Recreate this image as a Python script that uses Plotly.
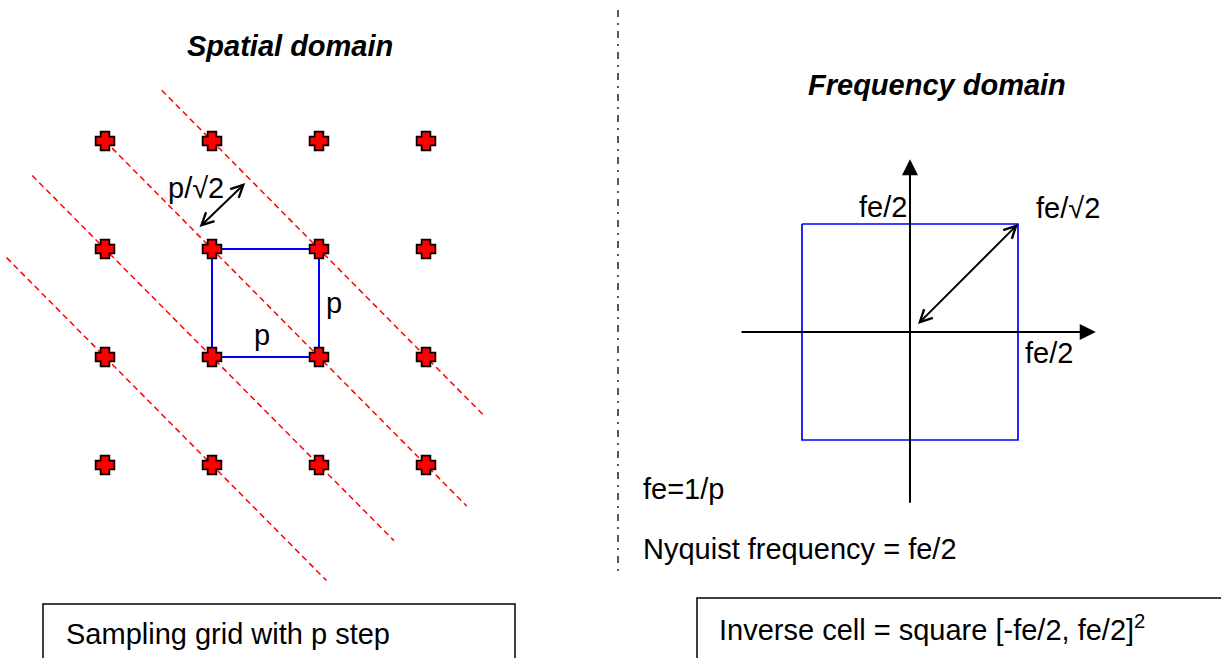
import plotly.graph_objects as go

W, H = 1221, 658

# ---------------- data ----------------
# Spatial sampling grid (units of p; rows counted from the top)
grid_cols = [0, 1, 2, 3]
grid_rows = [0, 1, 2, 3]

# Red dashed diagonals: col - row = offset, drawn between col_start and col_end
line_offsets = [1, 0, -1, -2]
line_col_start = [0.53, 0.0, -0.68, -0.92]
line_col_end = [3.53, 3.38, 2.70, 2.07]

# Unit cell (blue square)
cell_cols = [1, 2, 2, 1, 1]
cell_rows = [1, 1, 2, 2, 1]

# p/sqrt2 double arrow (spatial units)
sp_arrow_start = (0.87, 0.81)
sp_arrow_end = (1.31, 0.39)

# Frequency domain (units of fe)
inv_cell_x = [-0.5, 0.5, 0.5, -0.5, -0.5]
inv_cell_y = [0.5, 0.5, -0.5, -0.5, 0.5]
fx_axis_extent = [-0.78, 0.86]
fy_axis_extent = [-0.79, 0.80]
fq_arrow_start = (0.03, 0.03)
fq_arrow_end = (0.5, 0.5)

FONT = "Liberation Sans, Arial, sans-serif"
FS = 29

# ---------------- axes mapping ----------------
# left: col -> px = 105 + 107*c ; row -> py = 141 + 108*r
lx0 = -105 / 107
lx1 = lx0 + (W / 2) / 107
ly_bottom = (H - 141) / 108
ly_top = -141 / 108
# right: f -> px = 910 + 216*f ; f -> py = 332 - 216*f
rx0 = (W / 2 - 910) / 216
rx1 = (W - 910) / 216
ry0 = (332 - H) / 216
ry1 = 332 / 216

fig = go.Figure()

# dashed diagonals
for off, c0, c1 in zip(line_offsets, line_col_start, line_col_end):
    fig.add_trace(go.Scatter(
        x=[c0, c1], y=[c0 - off, c1 - off], mode="lines",
        line=dict(color="#ff0000", width=1.5, dash="6px,4px"),
        xaxis="x", yaxis="y", hoverinfo="skip", showlegend=False))

# unit cell
fig.add_trace(go.Scatter(
    x=cell_cols, y=cell_rows, mode="lines",
    line=dict(color="#0000ff", width=2),
    xaxis="x", yaxis="y", hoverinfo="skip", showlegend=False))

# grid points: chunky red crosses with black outline (two layers)
gx = [c for r in grid_rows for c in grid_cols]
gy = [r for r in grid_rows for c in grid_cols]
fig.add_trace(go.Scatter(
    x=gx, y=gy, mode="markers",
    marker=dict(symbol="cross", size=12.5, color="black",
                line=dict(color="black", width=5.5)),
    xaxis="x", yaxis="y", hoverinfo="skip", showlegend=False))
fig.add_trace(go.Scatter(
    x=gx, y=gy, mode="markers",
    marker=dict(symbol="cross", size=12.5, color="#ff0000",
                line=dict(color="#ff0000", width=2)),
    xaxis="x", yaxis="y", hoverinfo="skip", showlegend=False))

# inverse cell
fig.add_trace(go.Scatter(
    x=inv_cell_x, y=inv_cell_y, mode="lines",
    line=dict(color="#0000ff", width=1.7),
    xaxis="x2", yaxis="y2", hoverinfo="skip", showlegend=False))

# frequency axes lines (arrowheads via annotations)
fig.add_trace(go.Scatter(
    x=[fx_axis_extent[0], fx_axis_extent[1] - 0.02], y=[0, 0], mode="lines",
    line=dict(color="black", width=2),
    xaxis="x2", yaxis="y2", hoverinfo="skip", showlegend=False))
fig.add_trace(go.Scatter(
    x=[0, 0], y=[fy_axis_extent[0], fy_axis_extent[1] - 0.02], mode="lines",
    line=dict(color="black", width=2),
    xaxis="x2", yaxis="y2", hoverinfo="skip", showlegend=False))

ann = []
# axis arrowheads
ann.append(dict(x=fx_axis_extent[1], y=0, ax=fx_axis_extent[1] - 0.1, ay=0,
                xref="x2", yref="y2", axref="x2", ayref="y2", text="",
                showarrow=True, arrowhead=2, arrowsize=1.6, arrowwidth=2,
                arrowcolor="black", standoff=0))
ann.append(dict(x=0, y=fy_axis_extent[1], ax=0, ay=fy_axis_extent[1] - 0.1,
                xref="x2", yref="y2", axref="x2", ayref="y2", text="",
                showarrow=True, arrowhead=2, arrowsize=1.6, arrowwidth=2,
                arrowcolor="black", standoff=0))
# double arrows
for (x1, y1), (x0, y0), xr, yr in [(fq_arrow_end, fq_arrow_start, "x2", "y2"),
                                   (sp_arrow_end, sp_arrow_start, "x", "y")]:
    ann.append(dict(x=x1, y=y1, ax=x0, ay=y0,
                    xref=xr, yref=yr, axref=xr, ayref=yr, text="",
                    showarrow=True, arrowhead=5, startarrowhead=5, arrowside="end+start",
                    arrowsize=1.2, startarrowsize=1.2, arrowwidth=2,
                    arrowcolor="black", standoff=0, startstandoff=0))


def lab(text, x, y, xref, yref, size=FS, xanchor="center", yanchor="middle"):
    ann.append(dict(text=text, x=x, y=y, xref=xref, yref=yref, showarrow=False,
                    xanchor=xanchor, yanchor=yanchor,
                    font=dict(family=FONT, size=size, color="black")))


def px(x, y):
    return x / W, 1 - y / H


# diagram labels
lab("p/\u221a2", 0.85, 0.435, "x", "y")
lab("p", 1.467, 1.80, "x", "y")
lab("p", 2.14, 1.50, "x", "y")
lab("fe/2", -0.125, 0.579, "x2", "y2")
lab("fe/\u221a2", 0.731, 0.574, "x2", "y2")
lab("fe/2", 0.644, -0.097, "x2", "y2")

# titles
x, y = px(290, 46)
lab("<b><i>Spatial domain</i></b>", x, y, "paper", "paper")
x, y = px(937, 85)
lab("<b><i>Frequency domain</i></b>", x, y, "paper", "paper")

# notes
x, y = px(641, 489)
lab("fe=1/p", x, y, "paper", "paper", xanchor="left")
x, y = px(641, 549)
lab("Nyquist frequency = fe/2", x, y, "paper", "paper", xanchor="left")
x, y = px(64, 634)
lab("Sampling grid with p step", x, y, "paper", "paper", xanchor="left")
x, y = px(717, 628)
lab("Inverse cell = square [-fe/2, fe/2]<sup>2</sup>", x, y, "paper", "paper", xanchor="left")

shapes = [
    # dash-dot separator
    dict(type="line", xref="paper", yref="paper",
         x0=618 / W, x1=618 / W, y0=1 - 10 / H, y1=1 - 572 / H,
         line=dict(color="#222222", width=1.5, dash="7px,6px,2px,6px")),
    # text boxes
    dict(type="rect", xref="paper", yref="paper",
         x0=43 / W, x1=515 / W, y0=1 - 604 / H, y1=-0.1,
         line=dict(color="black", width=1.5)),
    dict(type="rect", xref="paper", yref="paper",
         x0=697 / W, x1=1.05, y0=1 - 598 / H, y1=-0.1,
         line=dict(color="black", width=1.5)),
]

hidden = dict(visible=False, showgrid=False, zeroline=False)
fig.update_layout(
    width=W, height=H, margin=dict(l=0, r=0, t=0, b=0),
    paper_bgcolor="white", plot_bgcolor="white",
    xaxis=dict(domain=[0, 0.5], range=[lx0, lx1], **hidden),
    yaxis=dict(domain=[0, 1], range=[ly_bottom, ly_top], **hidden),
    xaxis2=dict(domain=[0.5, 1], range=[rx0, rx1], anchor="y2", **hidden),
    yaxis2=dict(domain=[0, 1], range=[ry0, ry1], anchor="x2", **hidden),
    annotations=ann, shapes=shapes, showlegend=False,
)

fig.write_html("out.html", config={"displayModeBar": False},
               post_script="document.body.style.margin='0px';document.body.style.overflow='hidden';")
